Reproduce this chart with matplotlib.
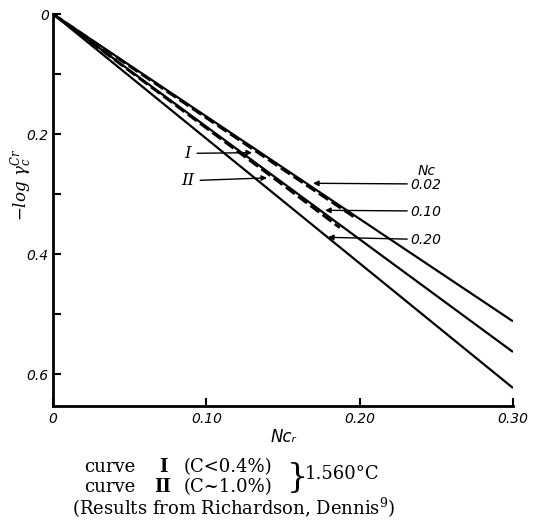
import numpy as np
import matplotlib.pyplot as plt

# Nc values of the straight lines and their end values at Ncr = 0.30
nc_values = ["0.02", "0.10", "0.20"]
ncr_line = [0.0, 0.30]
log_gamma_end = [0.512, 0.563, 0.623]

# experimental curves (dashed)
ncr_curve_I = [0.0, 0.05, 0.10, 0.15, 0.198]
log_gamma_I = [0.0, 0.087, 0.173, 0.259, 0.341]
ncr_curve_II = [0.0, 0.05, 0.10, 0.15, 0.187]
log_gamma_II = [0.0, 0.095, 0.190, 0.285, 0.356]

x_ticks = [0.0, 0.10, 0.20, 0.30]
x_ticklabels = ["0", "0.10", "0.20", "0.30"]
y_ticks = [0.0, 0.2, 0.4, 0.6]
y_ticklabels = ["0", "0.2", "0.4", "0.6"]
y_minor = [0.1, 0.3, 0.5]


def main():
    plt.rcParams["mathtext.fontset"] = "dejavuserif"
    fig = plt.figure(figsize=(5.44, 5.21), dpi=100)
    ax = fig.add_axes([53 / 544, 1 - 406 / 521, 460 / 544, 392 / 521])

    for end in log_gamma_end:
        ax.plot(ncr_line, [0.0, end], color="black", lw=1.6, solid_capstyle="butt")

    ax.plot(ncr_curve_I, log_gamma_I, color="black", lw=2.0, ls=(0, (4, 1.5)))
    ax.plot(ncr_curve_II, log_gamma_II, color="black", lw=2.0, ls=(0, (4, 1.5)))

    ax.set_xlim(0, 0.30)
    ax.set_ylim(0.653, 0)

    for s in ["top", "right"]:
        ax.spines[s].set_visible(False)
    for s in ["left", "bottom"]:
        ax.spines[s].set_linewidth(2)

    tick_font = dict(family="DejaVu Sans", style="italic", size=10)
    ax.set_xticks(x_ticks)
    ax.set_xticklabels(x_ticklabels, fontdict=tick_font)
    ax.set_yticks(y_ticks)
    ax.set_yticklabels(y_ticklabels, fontdict=tick_font)
    ax.set_yticks(y_minor, minor=True)
    ax.tick_params(axis="both", which="both", direction="in", length=6, width=1.5)
    ax.tick_params(axis="x", pad=4)
    ax.tick_params(axis="y", pad=3)

    ax.set_xlabel("Nc\u1d63", fontsize=12, style="italic", family="DejaVu Sans", labelpad=2)
    fig.text(22 / 544, 1 - 185 / 521, r"$-log\ \gamma_c^{Cr}$", fontsize=12,
             rotation=90, ha="center", va="center")

    arrow = dict(arrowstyle="-|>", lw=1, color="black", mutation_scale=8, shrinkA=0, shrinkB=0)

    # curve labels I and II
    ax.annotate("", xy=(0.1298, 0.231), xytext=(0.094, 0.232), arrowprops=arrow)
    ax.text(0.090, 0.232, "I", fontsize=12, style="italic", family="DejaVu Serif",
            ha="right", va="center")
    ax.annotate("", xy=(0.1396, 0.273), xytext=(0.096, 0.277), arrowprops=arrow)
    ax.text(0.092, 0.277, "II", fontsize=12, style="italic", family="DejaVu Serif",
            ha="right", va="center")

    # Nc labels
    ax.text(0.238, 0.262, "Nc", fontsize=10, style="italic", ha="left", va="center")
    label_y = [0.285, 0.330, 0.377]
    head_y = [0.282, 0.327, 0.372]
    head_x = [0.1696, 0.1774, 0.1793]
    for lab, ly, hy, hx in zip(nc_values, label_y, head_y, head_x):
        ax.annotate("", xy=(hx, hy), xytext=(0.231, ly - 0.002), arrowprops=arrow)
        ax.text(0.233, ly, lab, fontsize=10, style="italic", ha="left", va="center")

    cap = dict(family="DejaVu Serif", fontsize=13, va="center")
    fig.text(84 / 544, 1 - 467 / 521, "curve", ha="left", **cap)
    fig.text(84 / 544, 1 - 487 / 521, "curve", ha="left", **cap)
    fig.text(163 / 544, 1 - 467 / 521, "I", ha="center", fontweight="bold", **cap)
    fig.text(163 / 544, 1 - 487 / 521, "II", ha="center", fontweight="bold", **cap)
    fig.text(184 / 544, 1 - 467 / 521, "(C<0.4%)", ha="left", **cap)
    fig.text(184 / 544, 1 - 487 / 521, "(C~1.0%)", ha="left", **cap)
    fig.text(287 / 544, 1 - 478 / 521, "}", ha="left", family="DejaVu Serif",
             fontsize=24, va="center")
    fig.text(305 / 544, 1 - 474 / 521, "1.560°C", ha="left", **cap)
    fig.text(234 / 544, 1 - 508 / 521, "(Results from Richardson, Dennis$^{9}$)",
             ha="center", **cap)

    fig.savefig("out.png", dpi=100)


if __name__ == "__main__":
    main()
